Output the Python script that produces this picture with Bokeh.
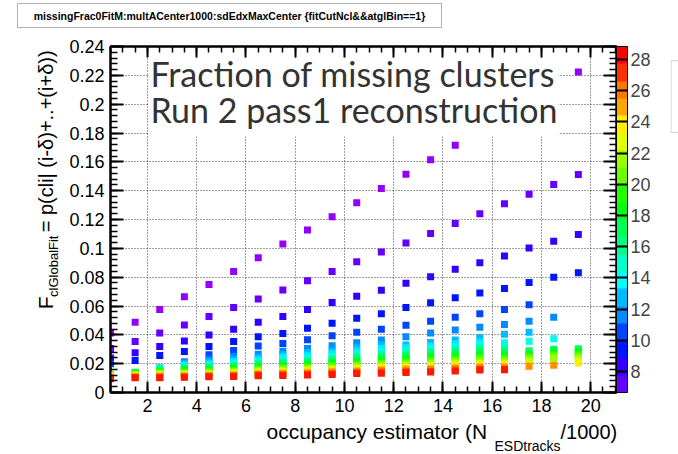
import colorsys
from math import pi
from bokeh.plotting import figure
from bokeh.layouts import column, row
from bokeh.models import (ColumnDataSource, LinearColorMapper, ColorBar, LinearAxis,
                          SingleIntervalTicker, CustomJSTickFormatter, Label,
                          BoxAnnotation, Range1d)
from bokeh.embed import file_html
from bokeh.resources import INLINE

# ---------------- data ----------------
occupancy = [0.5, 1.5, 2.5, 3.5, 4.5, 5.5, 6.5, 7.5, 8.5, 9.5,
             10.5, 11.5, 12.5, 13.5, 14.5, 15.5, 16.5, 17.5, 18.5, 19.5]
z_levels = [7, 7.6, 8.8, 10, 11, 12, 13, 14, 15, 16, 17, 18, 19, 20, 21, 22, 23, 24, 25, 26, 27, 28]
N = None
frac_z07 = [.0413, .0487, .0575, .0664, .0750, .0840, .0935, .1030, .1127, .1219, .1316, .1415, .1514, .1614, .1715, .181, .191, .201, .211, .2223]
frac_z08 = [.0305, .0353, .0412, .0468, .0527, .0589, .0649, .0711, .0776, .0840, .0907, .0974, .1037, .1103, .1172, .124, .131, .1376, .1443, .1512]
frac_z09 = [.0240, .0276, .0319, .0358, .0398, .0439, .0487, .0527, .0575, .0624, .0668, .0710, .0758, .0803, .0855, .0900, .0947, .1002, .1050, .1096]
frac_z10 = [.0220, .0222, .0256, .0285, .0319, .0353, .0386, .0410, .0445, .0480, .0515, .0547, .0589, .0623, .0657, .0690, .0722, .0763, .0799, .0831]
frac_z11 = [.0200, N, N, N, .0262, .0292, .0322, .0340, .0366, .0393, .0418, .0439, .0466, .0494, .0522, .0547, .0575, .0608, N, N]
frac_z12 = [N, N, N, .0214, .0231, .0250, .0266, .0286, .0305, .0325, .0345, .0365, .0386, .0412, .0433, .0452, .0472, .0494, .0522, N]
frac_z13 = [N, N, N, .0200, .0212, .0228, .0245, .0262, .0275, .0290, .0310, .0330, .0330, .0346, .0365, .0379, .0404, .0418, N, N]
frac_z14 = [N, N, .0173, .0190, .0200, .0213, .0228, .0244, .0255, .0268, .0287, .0305, .0310, .0322, .0338, .0350, N, N, N, N]
frac_z15 = [N, N, .0166, .0180, .0189, .0200, .0214, .0228, .0238, .0250, .0267, .0283, .0290, .0302, .0316, .0328, .0345, .0356, .0372, N]
frac_z16 = [N, N, .0160, .0172, .0179, .0189, .0202, .0214, .0223, .0234, .0249, .0264, .0272, .0284, .0296, .0307, .0300, N, N, N]
frac_z17 = [N, .0141, .0154, .0164, .0170, .0179, .0191, .0202, .0210, .0220, .0234, .0247, .0256, .0267, .0278, .0288, .0282, .0290, .0300, .0303]
frac_z18 = [N, .0137, .0148, .0157, .0162, .0170, .0181, .0191, .0199, .0208, .0220, .0232, .0241, .0252, .0262, .0271, .0266, .0276, .0287, .0290]
frac_z19 = [.0127, .0133, .0143, .0150, .0154, .0162, .0172, .0181, .0188, .0197, .0208, .0219, .0227, .0238, .0247, .0255, .0251, .0262, .0274, .0277]
frac_z20 = [.0124, .0129, .0138, .0143, .0147, .0154, .0164, .0172, .0178, .0187, .0197, .0207, .0214, .0225, .0233, .0241, .0237, .0249, .0261, .0264]
frac_z21 = [.0121, .0126, .0133, .0137, .0141, .0147, .0156, .0164, .0169, .0177, .0187, .0196, .0202, .0212, .0220, .0227, .0224, .0237, .0249, .0252]
frac_z22 = [.0118, .0122, .0128, .0131, .0135, .0141, .0149, .0156, .0161, .0169, .0178, .0186, .0192, .0200, .0208, .0214, .0212, .0226, .0237, .0240]
frac_z23 = [.0115, .0119, .0124, .0126, .0129, .0135, .0143, .0149, .0154, .0161, .0169, .0177, .0182, .0189, .0196, .0202, .0200, .0214, N, .0224]
frac_z24 = [.0111, .0115, .0120, .0121, .0124, .0130, .0137, .0142, .0147, .0154, .0161, .0168, .0173, .0178, .0185, .0191, .0190, N, N, .0204]
frac_z25 = [.0107, .0112, .0115, .0116, .0120, .0125, .0131, .0136, .0140, .0147, .0153, .0160, .0164, .0168, .0175, .0181, .0180, N, N, N]
frac_z26 = [.0103, .0108, .0111, .0112, .0116, .0120, .0126, .0130, .0134, .0140, .0146, .0152, .0156, .0159, .0166, .0172, .0171, .0182, .0189, N]
frac_z27 = [.0099, .0105, .0107, .0108, .0113, .0115, .0121, .0124, .0128, .0133, .0139, .0144, .0148, .0150, .0158, .0163, .0163, N, N, N]
frac_z28 = [.0095, .0102, .0102, .0105, .0110, .0111, .0116, .0118, .0122, .0124, .0131, .0134, .0139, .0143, .0149, .0156, .0157, N, N, N]
series = [frac_z07, frac_z08, frac_z09, frac_z10, frac_z11, frac_z12, frac_z13, frac_z14,
          frac_z15, frac_z16, frac_z17, frac_z18, frac_z19, frac_z20, frac_z21, frac_z22,
          frac_z23, frac_z24, frac_z25, frac_z26, frac_z27, frac_z28]
z_min, z_max = 6.65, 28.83

title_text = "missingFrac0FitM:multACenter1000:sdEdxMaxCenter {fitCutNcl&&atglBin==1}"
note_lines = ["Fraction of missing clusters", "Run 2 pass1 reconstruction"]
xlabel_parts = ["occupancy estimator (N", "ESDtracks", "/1000)"]
ylabel_parts = ["F", "clGlobalFit", "= p(cli| (i-\u03b4)+..+(i+\u03b4))"]

# ---------------- palette (ROOT "pretty" violet -> red) ----------------
pal50 = []
for i in range(50):
    h = 280.0 - (i + 1) * 280.0 / 50
    r, g, b = colorsys.hls_to_rgb(h / 360.0, 0.5, 1.0)
    pal50.append("#%02x%02x%02x" % (round(r * 255), round(g * 255), round(b * 255)))
pal20 = [pal50[int((i + 0.99) * 50 / 20)] for i in range(20)]

marker_mapper = LinearColorMapper(palette=pal50, low=z_min, high=z_max)
bar_mapper = LinearColorMapper(palette=pal20, low=z_min, high=z_max)

xs, ys, zs = [], [], []
for z, vals in zip(z_levels, series):
    for x, v in zip(occupancy, vals):
        if v is not None:
            xs.append(x); ys.append(v); zs.append(z)
src = ColumnDataSource(dict(x=xs, y=ys, z=zs))

# ---------------- layout constants (page pixels) ----------------
W, H = 678, 454
TOP_H = 30            # strip holding the title pave
LEFT_W = 62           # strip holding the y title
STAT_W = 8            # strip holding the clipped stats pave
MID_H = 391
BOT_H = H - TOP_H - MID_H
MAIN_W = W - LEFT_W - STAT_W
FL, FR, FT, FB = 110, 616, 46, 392     # frame in page pixels
X0, X1 = 0.5, 21.05
Y0, Y1 = 0.0, 0.24
FONT = "Liberation Sans"
K_LIB, K_LATO = 0.42, 0.45              # baseline correction (fraction of font size)

def px2x(px):
    return X0 + (px - FL) * (X1 - X0) / (FR - FL)

def py2y(py):
    return Y1 - (py - FT) * (Y1 - Y0) / (FB - FT)

def blank_fig(w, h):
    f = figure(width=w, height=h, x_range=Range1d(0, w), y_range=Range1d(h, 0),
               output_backend="svg", toolbar_location=None,
               x_axis_type=None, y_axis_type=None, min_border=0)
    f.outline_line_color = None
    f.grid.visible = False
    f.background_fill_color = "white"
    f.border_fill_color = "white"
    return f

# ---------------- main plot ----------------
p = figure(width=MAIN_W, height=MID_H, x_range=Range1d(X0, X1), y_range=Range1d(Y0, Y1),
           output_backend="svg", toolbar_location=None,
           min_border_left=FL - LEFT_W, min_border_right=(W - STAT_W) - FR,
           min_border_top=FT - TOP_H, min_border_bottom=(TOP_H + MID_H) - FB)
p.background_fill_color = "white"
p.border_fill_color = "white"
p.outline_line_color = "black"
p.outline_line_width = 2

xt = SingleIntervalTicker(interval=2, num_minor_ticks=4)
yt = SingleIntervalTicker(interval=0.02, num_minor_ticks=5)
yfmt = CustomJSTickFormatter(code="var s = tick.toFixed(2); s = s.replace(/0+$/, ''); s = s.replace(/\\.$/, ''); return s;")
nofmt = CustomJSTickFormatter(code="return '';")

def style_axis(ax, major, minor, labels=True):
    ax.axis_line_color = "black"
    ax.axis_line_width = 2
    ax.major_tick_in = major
    ax.major_tick_out = 0
    ax.minor_tick_in = minor
    ax.minor_tick_out = 0
    ax.major_tick_line_width = 2
    ax.minor_tick_line_width = 1.5
    ax.major_tick_line_color = "black"
    ax.minor_tick_line_color = "black"
    ax.axis_label = None
    if labels:
        ax.major_label_text_font = FONT
        ax.major_label_text_font_size = "18px"
        ax.major_label_text_color = "black"
    else:
        ax.formatter = nofmt
        ax.major_label_text_font_size = "0px"
        ax.major_label_standoff = 0

p.xaxis.ticker = xt
p.yaxis.ticker = yt
p.yaxis.formatter = yfmt
style_axis(p.xaxis[0], 11, 6)
style_axis(p.yaxis[0], 13, 7)
p.xaxis.major_label_standoff = 6
p.yaxis.major_label_standoff = 6

top_ax = LinearAxis(ticker=xt)
style_axis(top_ax, 11, 6, labels=False)
p.add_layout(top_ax, "above")
right_ax = LinearAxis(ticker=yt)
style_axis(right_ax, 13, 7, labels=False)
right_ax.major_label_standoff = 3
p.add_layout(right_ax, "right")

p.grid.grid_line_color = "black"
p.grid.grid_line_dash = "1 2"
p.grid.grid_line_alpha = 0.75
p.grid.grid_line_width = 1

p.scatter(x="x", y="y", source=src, marker="square", size=7,
          fill_color={"field": "z", "transform": marker_mapper}, line_color=None)

cb = ColorBar(color_mapper=bar_mapper, ticker=SingleIntervalTicker(interval=2),
              width=11, margin=0, padding=0, label_standoff=3,
              major_label_text_font=FONT, major_label_text_font_size="18px",
              major_tick_in=11, major_tick_out=0, major_tick_line_color="black",
              major_tick_line_width=2, minor_tick_line_color=None,
              bar_line_color="black", bar_line_width=1, border_line_color=None)
p.add_layout(cb, "right")

# white pave behind the note text
p.add_layout(BoxAnnotation(left=px2x(148), right=px2x(558), top=py2y(58), bottom=py2y(136),
                           fill_color="white", fill_alpha=1.0, line_color=None))
for txt, by in zip(note_lines, (88, 124)):
    p.add_layout(Label(x=px2x(150), y=py2y(by - K_LATO * 34), text=txt, text_font="Lato",
                       text_font_size="34px", text_color="#333333",
                       text_baseline="alphabetic", text_align="left"))

# ---------------- title strip ----------------
top = blank_fig(W, TOP_H)
top.add_layout(BoxAnnotation(left=17, right=441, top=3, bottom=27, fill_color="white",
                             fill_alpha=1.0, line_color="black", line_width=1))
top.add_layout(Label(x=229, y=19.5 - K_LIB * 10.5, text=title_text, text_font=FONT,
                     text_font_style="bold", text_font_size="10.5px", text_color="black",
                     text_baseline="alphabetic", text_align="center"))

# ---------------- y title strip ----------------
left = blank_fig(LEFT_W, MID_H)
def ylab(bx, sy, t, size):
    left.add_layout(Label(x=bx - K_LIB * size, y=sy - TOP_H, text=t, text_font=FONT,
                          text_font_size="%dpx" % size, text_color="black", angle=pi / 2,
                          text_baseline="alphabetic", text_align="left"))
ylab(54, 327, ylabel_parts[0], 21)
ylab(58, 313, ylabel_parts[1], 13)
ylab(54, 240, ylabel_parts[2], 20)

# ---------------- stats strip (pave cut by the window edge) ----------------
stat = blank_fig(STAT_W, MID_H)
stat.add_layout(BoxAnnotation(left=0.5, right=40, top=FT - TOP_H, bottom=127 - TOP_H,
                              fill_color="white", fill_alpha=1.0, line_color="#666666",
                              line_width=1))

# ---------------- x title strip ----------------
bot = blank_fig(W, BOT_H)
y0b = TOP_H + MID_H
def xlab(sx, by, t, size):
    bot.add_layout(Label(x=sx, y=by - y0b - K_LIB * size, text=t, text_font=FONT,
                         text_font_size="%dpx" % size, text_color="black",
                         text_baseline="alphabetic", text_align="left"))
xlab(266, 440, xlabel_parts[0], 21)
xlab(494, 451, xlabel_parts[1], 14)
xlab(560, 440, xlabel_parts[2], 20)

layout = column(top, row(left, p, stat, spacing=0), bot, spacing=0)
open("out.html", "w").write(file_html(layout, INLINE))
